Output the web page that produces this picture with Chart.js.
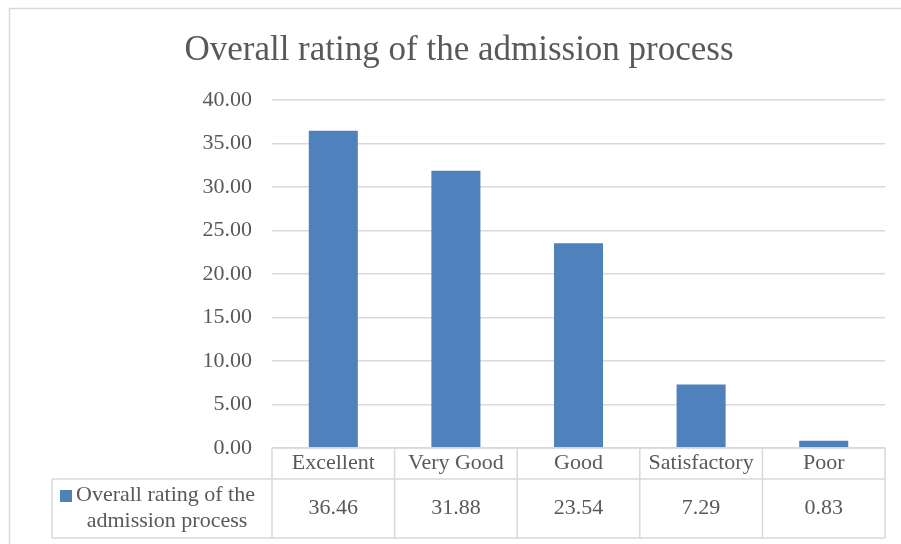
<!DOCTYPE html>
<html>
<head>
<meta charset="utf-8">
<script src="https://cdn.jsdelivr.net/npm/chart.js@4/dist/chart.umd.min.js"></script>
<style>
  html, body { margin: 0; padding: 0; background: #fff; }
  #wrap { width: 901px; height: 544px; position: relative; }
</style>
</head>
<body>
<div id="wrap"><canvas id="ratingChart"></canvas></div>
<script>
// data
const categories = ["Excellent", "Very Good", "Good", "Satisfactory", "Poor"];
const ratingValues = [36.46, 31.88, 23.54, 7.29, 0.83];
const seriesName = "Overall rating of the admission process";
const legendLines = ["Overall rating of the", "admission process"];
const chartTitle = "Overall rating of the admission process";

const textColor = "#595959";
const lineColor = "#D9D9D9";
const barColor = "#4F81BD";
const serif = "'Liberation Serif', 'Times New Roman', serif";

// white background, outer border, title and the data table under the axis
const tablePlugin = {
    id: "tablePlugin",
    beforeDraw(chart) {
        const c = chart.ctx;
        c.save();
        c.fillStyle = "#fff";
        c.fillRect(0, 0, chart.width, chart.height);
        c.strokeStyle = lineColor;
        c.lineWidth = 1.5;
        c.strokeRect(9.5, 8.5, chart.width + 20, chart.height + 20);
        c.fillStyle = textColor;
        c.font = "35px " + serif;
        c.textAlign = "center";
        c.textBaseline = "alphabetic";
        c.fillText(chartTitle, 459, 60);
        c.restore();
    },
    afterDraw(chart) {
        const c = chart.ctx;
        const x = chart.scales.x;
        const area = chart.chartArea;
        const top = area.bottom;
        const mid = top + 31;
        const bottom = top + 90;
        const legendLeft = 52;
        const half = (x.getPixelForValue(1) - x.getPixelForValue(0)) / 2;

        c.save();
        c.strokeStyle = lineColor;
        c.lineWidth = 1.5;
        c.beginPath();
        c.moveTo(area.left, top); c.lineTo(area.right, top);
        c.moveTo(legendLeft, mid); c.lineTo(area.right, mid);
        c.moveTo(legendLeft, bottom); c.lineTo(area.right, bottom);
        c.moveTo(legendLeft, mid); c.lineTo(legendLeft, bottom);
        for (let i = 0; i <= categories.length; i++) {
            const px = x.getPixelForValue(i) - half;
            c.moveTo(px, top); c.lineTo(px, bottom);
        }
        c.stroke();

        c.fillStyle = textColor;
        c.font = "22px " + serif;
        c.textAlign = "center";
        c.textBaseline = "middle";
        categories.forEach((cat, i) => {
            const px = x.getPixelForValue(i);
            c.fillText(cat, px, top + 15);
            c.fillText(ratingValues[i].toFixed(2), px, (mid + bottom) / 2);
        });

        // legend key cell
        const keySize = 12;
        const startX = 60;
        c.fillStyle = barColor;
        c.fillRect(startX, mid + 11, keySize, keySize);
        c.fillStyle = textColor;
        c.textAlign = "left";
        c.fillText(legendLines[0], startX + keySize + 4, mid + 16);
        c.textAlign = "center";
        c.fillText(legendLines[1], 167, mid + 42);
        c.restore();
    }
};

const ctx = document.getElementById("ratingChart").getContext("2d");
new Chart(ctx, {
    type: "bar",
    data: {
        labels: categories,
        datasets: [{
            label: seriesName,
            data: ratingValues,
            backgroundColor: barColor,
            borderWidth: 0,
            barPercentage: 0.4,
            categoryPercentage: 1
        }]
    },
    options: {
        responsive: true,
        maintainAspectRatio: false,
        animation: false,
        layout: { padding: { left: 0, top: 100, right: 16, bottom: 96 } },
        plugins: {
            legend: { display: false },
            title: { display: false },
            tooltip: { enabled: false }
        },
        scales: {
            x: { display: false },
            y: {
                min: 0,
                max: 40,
                afterFit(scale) { scale.width = 272; },
                ticks: {
                    stepSize: 5,
                    padding: 20,
                    color: textColor,
                    font: { family: serif, size: 22 },
                    callback: v => Number(v).toFixed(2)
                },
                grid: { color: lineColor, lineWidth: 1.5, drawTicks: false },
                border: { display: false }
            }
        }
    },
    plugins: [tablePlugin]
});
</script>
</body>
</html>
